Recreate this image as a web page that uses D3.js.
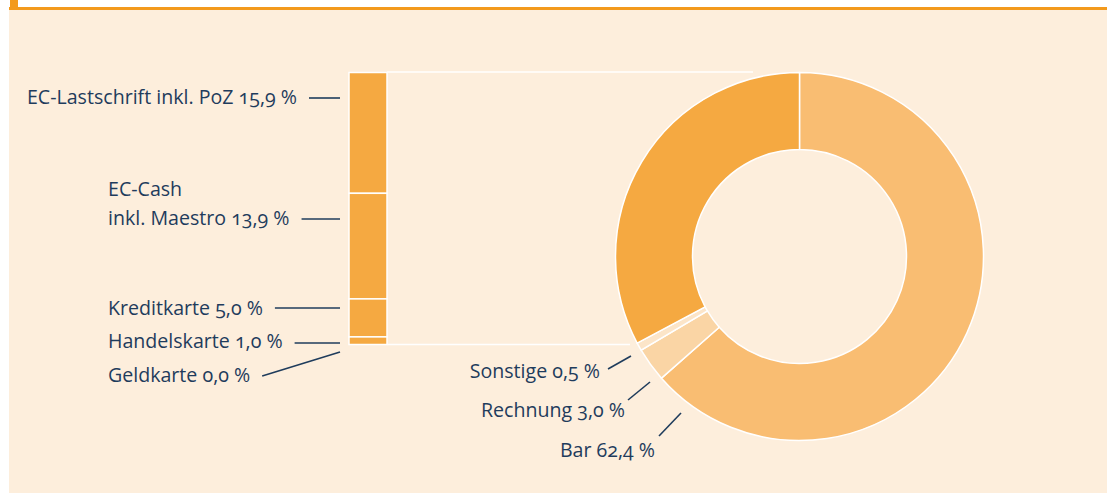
<!DOCTYPE html>
<html>
<head>
<meta charset="utf-8">
<script src="https://cdn.jsdelivr.net/npm/d3@7"></script>
<style>
    html, body { margin: 0; padding: 0; background: #ffffff; }
    svg { display: block; }
    text {
        font-family: "Open Sans", "Noto Sans", sans-serif;
        font-size: 19.6px;
        fill: #1f3c5c;
        font-feature-settings: "onum";
        font-variant-numeric: oldstyle-nums;
    }
    .leader { stroke: #1f3c5c; stroke-width: 1.6; }
    .connector { stroke: #ffffff; stroke-width: 1.5; }
</style>
</head>
<body>
<svg id="chart" width="1107" height="493"></svg>
<script>
// stacked bar: breakdown of card payments
const barLabels = ["EC-Lastschrift inkl. PoZ", "EC-Cash|inkl. Maestro", "Kreditkarte", "Handelskarte", "Geldkarte"];
const barValues = [15.9, 13.9, 5.0, 1.0, 0.0];

// donut: payment methods (shares as drawn in the ring, clockwise from 12 o'clock)
const pieLabels = ["Bar", "Rechnung", "Sonstige", "Karten"];
const pieValues = [62.4, 3.0, 0.5, 35.8];
const pieShares = [63.5, 3.0, 0.7, 32.8];

const fmt = v => d3.format(".1f")(v).replace(".", ",") + " %";

const svg = d3.select("#chart");

// panel + orange rule
svg.append("rect").attr("x", 9).attr("y", 10).attr("width", 1098).attr("height", 483).attr("fill", "#fdeedc");
svg.append("rect").attr("x", 9).attr("y", 7).attr("width", 1098).attr("height", 3).attr("fill", "#f39a1c");
svg.append("rect").attr("x", 10).attr("y", 0).attr("width", 8).attr("height", 10).attr("fill", "#f39a1c");

/* ---------- donut ---------- */
const cx = 799.5, cy = 256.5, rOuter = 184, rInner = 107;
const pieColors = ["#f9bd72", "#fad5a5", "#fce5c8", "#f5a941"];

const pie = d3.pie().sort(null).value(d => d);
const arcs = pie(pieShares);
const arc = d3.arc().innerRadius(rInner).outerRadius(rOuter);

const donut = svg.append("g").attr("transform", `translate(${cx},${cy})`);
donut.selectAll("path.slice").data(arcs).enter()
    .append("path")
    .attr("class", "slice")
    .attr("d", arc)
    .attr("fill", (d, i) => pieColors[i])
    .attr("stroke", "#ffffff")
    .attr("stroke-width", 1.5);

/* ---------- stacked bar ---------- */
const barX = 349, barW = 38;
const y = d3.scaleLinear().domain([0, d3.sum(barValues)]).range([72.5, 344.5]);
const ends = d3.cumsum(barValues);
const segs = barValues.map((v, i) => ({ v: v, y0: ends[i] - v, y1: ends[i], label: barLabels[i] }));

// connector lines from bar to ring
svg.append("line").attr("class", "connector")
    .attr("x1", barX + barW).attr("x2", 753).attr("y1", y.range()[0] - 0.5).attr("y2", y.range()[0] - 0.5);
svg.append("line").attr("class", "connector")
    .attr("x1", barX + barW).attr("x2", 630).attr("y1", y.range()[1]).attr("y2", y.range()[1]);

svg.selectAll("rect.seg").data(segs).enter()
    .append("rect")
    .attr("class", "seg")
    .attr("x", barX)
    .attr("width", barW)
    .attr("y", d => y(d.y0))
    .attr("height", d => y(d.y1) - y(d.y0))
    .attr("fill", "#f5a941")
    .attr("stroke", "#ffffff")
    .attr("stroke-width", 1.5);

// left labels
const leftLayout = [
    { x: 297, anchor: "end", ty: 104, ly: 98, ey: 98 },
    { x: 108, anchor: "start", ty: 225, ly: 219, ey: 219 },
    { x: 108, anchor: "start", ty: 315, ly: 308, ey: 308 },
    { x: 108, anchor: "start", ty: 348, ly: 343, ey: 343 },
    { x: 108, anchor: "start", ty: 382, ly: 376, ey: 352 }
];

segs.forEach((d, i) => {
    const L = leftLayout[i];
    const parts = d.label.split("|");
    if (parts.length > 1) {
        svg.append("text").attr("x", L.x).attr("y", L.ty - 29).attr("text-anchor", L.anchor).text(parts[0]);
    }
    const last = svg.append("text").attr("x", L.x).attr("y", L.ty).attr("text-anchor", L.anchor)
        .text(parts[parts.length - 1] + " " + fmt(d.v));
    const w = last.node().getComputedTextLength();
    const xEnd = L.anchor === "end" ? L.x : L.x + w;
    svg.append("line").attr("class", "leader")
        .attr("x1", xEnd + 12).attr("y1", L.ly)
        .attr("x2", barX - 9).attr("y2", L.ey);
});

// donut labels
const rightLayout = [
    { x: 655, ty: 457, x1: 659, y1: 436, x2: 681, y2: 413 },
    { x: 625, ty: 417, x1: 628, y1: 400, x2: 650, y2: 382 },
    { x: 600, ty: 378, x1: 608, y1: 369, x2: 631, y2: 356 }
];
rightLayout.forEach((L, i) => {
    svg.append("text").attr("x", L.x).attr("y", L.ty).attr("text-anchor", "end")
        .text(pieLabels[i] + " " + fmt(pieValues[i]));
    svg.append("line").attr("class", "leader")
        .attr("x1", L.x1).attr("y1", L.y1).attr("x2", L.x2).attr("y2", L.y2);
});
</script>
</body>
</html>
